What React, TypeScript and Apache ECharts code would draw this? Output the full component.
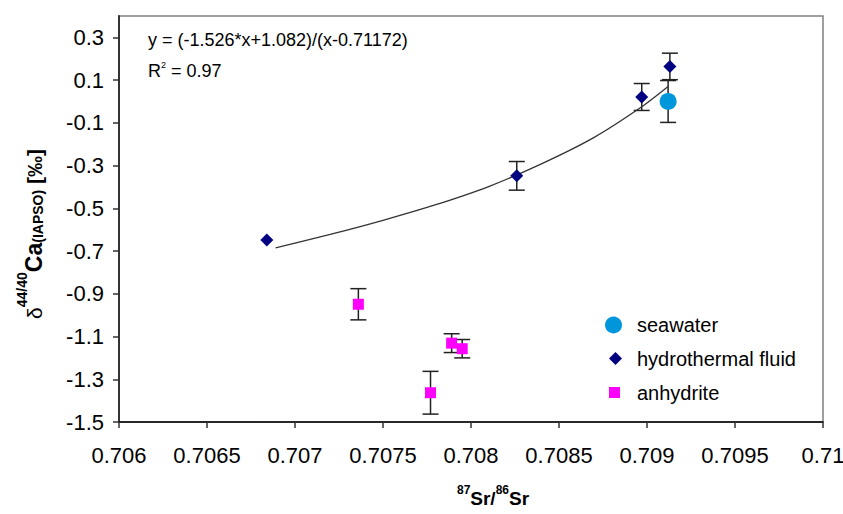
import React, { useEffect, useRef } from "react";
import * as echarts from "echarts";

const FONT = "'Liberation Sans', Arial, Helvetica, sans-serif";

// Data
const SEAWATER = [[0.70912, 0.0]];
const SEAWATER_ERR = [0.098];
const HYDRO = [
  [0.70684, -0.648],
  [0.70826, -0.348],
  [0.70897, 0.021],
  [0.70913, 0.164],
];
const HYDRO_ERR = [0, 0.067, 0.063, 0.062];
const ANHY = [
  [0.70736, -0.949],
  [0.70777, -1.363],
  [0.70789, -1.131],
  [0.70795, -1.157],
];
const ANHY_ERR = [0.073, 0.1, 0.044, 0.043];
// trend curve points
const TREND = [
  [0.70689, -0.685],
  [0.7072, -0.622],
  [0.7075, -0.556],
  [0.7078, -0.483],
  [0.7081, -0.398],
  [0.7084, -0.292],
  [0.7087, -0.168],
  [0.70897, -0.025],
  [0.70912, 0.07],
];
const Y_TICKS = [-1.5, -1.3, -1.1, -0.9, -0.7, -0.5, -0.3, -0.1, 0.1, 0.3];

function buildErrors() {
  const out: number[][] = [];
  const add = (pts: number[][], errs: number[]) => {
    pts.forEach((p, i) => {
      if (errs[i] > 0) out.push([p[0], p[1] - errs[i], p[1] + errs[i]]);
    });
  };
  add(SEAWATER, SEAWATER_ERR);
  add(HYDRO, HYDRO_ERR);
  add(ANHY, ANHY_ERR);
  return out;
}

export default function App() {
  const ref = useRef<HTMLDivElement>(null);
  useEffect(() => {
    document.body.style.margin = "0";
    if (!ref.current) return;
    const chart = echarts.init(ref.current, undefined, { renderer: "svg" });
    const option: any = {
      animation: false,
      backgroundColor: "#fff",
      textStyle: { fontFamily: FONT },
      grid: {
        left: 119,
        right: 20,
        top: 16,
        bottom: 92,
        show: true,
        borderColor: "#808080",
        borderWidth: 1.5,
        containLabel: false,
        outerBoundsMode: "none",
      },
      xAxis: {
        type: "value",
        min: 0.706,
        max: 0.71,
        interval: 0.0005,
        splitLine: { show: false },
        axisLine: { show: true, onZero: false, lineStyle: { color: "#000", width: 1.5 } },
        axisTick: { show: true, inside: false, length: 6, lineStyle: { color: "#333", width: 1.5 } },
        axisLabel: { fontSize: 22, color: "#000", margin: 22, fontFamily: FONT },
        name: "{sup|87}{sr|Sr/}{sup|86}{sr|Sr}",
        nameLocation: "middle",
        nameGap: 62,
        nameTextStyle: {
          padding: [0, 0, 0, 44],
          rich: {
            sup: { fontSize: 12, fontWeight: "bold", verticalAlign: "top", lineHeight: 24, fontFamily: FONT, color: "#000" },
            sr: { fontSize: 19, fontWeight: "bold", verticalAlign: "bottom", lineHeight: 24, fontFamily: FONT, color: "#000" },
          },
        },
      },
      yAxis: {
        type: "value",
        min: -1.5,
        max: 0.4,
        splitLine: { show: false },
        axisLine: { show: true, onZero: false, lineStyle: { color: "#333", width: 2 } },
        axisTick: {
          show: true,
          inside: false,
          length: 6,
          customValues: Y_TICKS,
          lineStyle: { color: "#333", width: 1.5 },
        },
        axisLabel: {
          fontSize: 22,
          color: "#000",
          margin: 15,
          fontFamily: FONT,
          customValues: Y_TICKS,
        },
        name: "{d|δ}{sup|44/40}{ca|Ca}{sub|(IAPSO)}{br| [‰]}",
        nameLocation: "middle",
        nameRotate: 90,
        nameGap: 74,
        nameTextStyle: {
          padding: [0, 30, 0, 0],
          rich: {
            d: { fontSize: 21, fontFamily: FONT, color: "#000", lineHeight: 30, verticalAlign: "bottom" },
            sup: { fontSize: 14, fontWeight: "bold", fontFamily: FONT, color: "#000", verticalAlign: "top", lineHeight: 14 },
            ca: { fontSize: 23, fontWeight: "bold", fontFamily: FONT, color: "#000", lineHeight: 30, verticalAlign: "bottom" },
            sub: { fontSize: 14, fontWeight: "bold", fontFamily: FONT, color: "#000", verticalAlign: "bottom", lineHeight: 14 },
            br: { fontSize: 21, fontWeight: "bold", fontFamily: FONT, color: "#000", lineHeight: 30, verticalAlign: "bottom" },
          },
        },
      },
      legend: [
        {
          data: ["seawater"],
          left: 605,
          top: 315,
          itemWidth: 17,
          itemHeight: 17,
          selectedMode: false,
          padding: 0,
          textStyle: { fontSize: 20, color: "#000", fontFamily: FONT, padding: [0, 0, 0, 10] },
        },
        {
          data: ["hydrothermal fluid"],
          left: 609,
          top: 348.5,
          itemWidth: 13,
          itemHeight: 13,
          selectedMode: false,
          padding: 0,
          textStyle: { fontSize: 20, color: "#000", fontFamily: FONT, padding: [0, 0, 0, 10] },
        },
        {
          data: ["anhydrite"],
          left: 609,
          top: 382.5,
          itemWidth: 11,
          itemHeight: 11,
          selectedMode: false,
          padding: 0,
          textStyle: { fontSize: 20, color: "#000", fontFamily: FONT, padding: [0, 0, 0, 12] },
        },
      ],
      graphic: [
        {
          type: "text",
          left: 148,
          top: 31,
          silent: true,
          style: {
            text: "y = (-1.526*x+1.082)/(x-0.71172)",
            fontSize: 18,
            fontFamily: FONT,
            fill: "#000",
          },
        },
        {
          type: "text",
          left: 148,
          top: 60,
          silent: true,
          style: {
            text: "{r|R}{s|2}{r| = 0.97}",
            fill: "#000",
            rich: {
              r: { fontSize: 18, fontFamily: FONT, fill: "#000", lineHeight: 20, verticalAlign: "bottom" },
              s: { fontSize: 9, fontFamily: FONT, fill: "#000", lineHeight: 10, verticalAlign: "top" },
            },
          },
        },
      ],
      series: [
        {
          name: "errors",
          type: "custom",
          z: 1,
          silent: true,
          data: buildErrors(),
          encode: { x: 0, y: [1, 2] },
          renderItem: (_params: any, api: any) => {
            const x = api.value(0);
            const lo = api.coord([x, api.value(1)]);
            const hi = api.coord([x, api.value(2)]);
            const w = 8;
            const style = { stroke: "#222", lineWidth: 1.5 };
            return {
              type: "group",
              children: [
                { type: "line", shape: { x1: lo[0], y1: lo[1], x2: hi[0], y2: hi[1] }, style },
                { type: "line", shape: { x1: lo[0] - w, y1: lo[1], x2: lo[0] + w, y2: lo[1] }, style },
                { type: "line", shape: { x1: hi[0] - w, y1: hi[1], x2: hi[0] + w, y2: hi[1] }, style },
              ],
            };
          },
        },
        {
          name: "trend",
          type: "line",
          z: 2,
          data: TREND,
          smooth: 0.25,
          showSymbol: false,
          silent: true,
          lineStyle: { color: "#333", width: 1.3 },
        },
        {
          name: "seawater",
          type: "scatter",
          z: 3,
          data: SEAWATER,
          symbol: "circle",
          symbolSize: 17,
          itemStyle: { color: "#0096dc", opacity: 1 },
        },
        {
          name: "hydrothermal fluid",
          type: "scatter",
          z: 3,
          data: HYDRO,
          symbol: "diamond",
          symbolSize: 13,
          itemStyle: { color: "#000080", opacity: 1 },
        },
        {
          name: "anhydrite",
          type: "scatter",
          z: 3,
          data: ANHY,
          symbol: "rect",
          symbolSize: 11,
          itemStyle: { color: "#ff00ff", opacity: 1 },
        },
      ],
    };
    chart.setOption(option);
    return () => chart.dispose();
  }, []);
  return <div ref={ref} style={{ width: 843, height: 514 }} />;
}
